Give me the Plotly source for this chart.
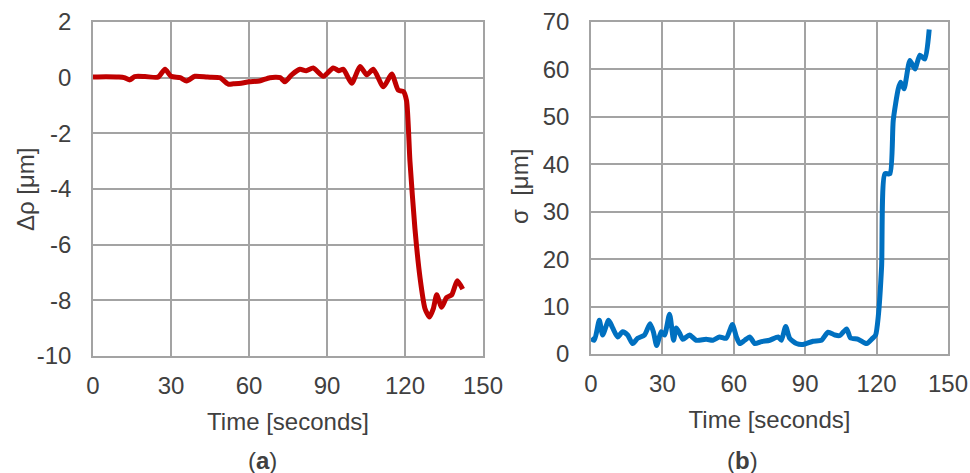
import plotly.graph_objects as go

# (a) displacement change
t_a = [0, 5, 10, 12, 14.2, 16, 20, 25, 27.7, 30, 33.5, 36, 39.2, 44, 48.8, 52, 54, 57, 60, 64,
       68, 72, 73.8, 76.4, 79.6, 82, 84.7, 88.6, 92.4, 94.5, 96.3, 99.5, 102.7, 105.3, 107.8,
       111.7, 114.9, 117.4, 119.4, 120.6, 121.9, 123.8, 125.8, 127.7, 129.4, 130.9, 132.2,
       134.1, 136, 138, 140.1, 142.2]
d_rho = [0.02, 0.03, 0.02, 0.0, -0.08, 0.04, 0.04, 0.02, 0.3, 0.05, 0.0, -0.12, 0.05, 0.02, 0.0,
         -0.23, -0.22, -0.2, -0.15, -0.12, 0.0, 0.0, -0.15, 0.1, 0.3, 0.25, 0.35, 0.05, 0.35,
         0.25, 0.3, -0.2, 0.4, 0.1, 0.3, -0.33, 0.13, -0.45, -0.5, -0.83, -3.0, -5.4, -7.2,
         -8.3, -8.6, -8.3, -7.8, -8.25, -7.9, -7.8, -7.3, -7.6]

# (b) standard deviation
t_b = [0, 1.4, 3.5, 4.9, 7.4, 9.1, 11.2, 13.3, 15.4, 17.5, 19.6, 22.5, 24.8, 26.2, 27.6, 29.5,
       30.9, 33, 34.7, 35.8, 37.2, 38.6, 41.4, 44.2, 48.4, 51.2, 54, 56.8, 59.4, 61.1, 62.5,
       64.6, 66.7, 68.8, 71.6, 75.1, 78.6, 80, 81.8, 83.5, 86.3, 89.1, 93.3, 96.8, 99.6, 102.5,
       104.6, 107.4, 109, 112.3, 115.8, 118.3, 119.6, 120.7, 122.1, 123.5, 125.6, 127, 129.1,
       130.1, 131.5, 134, 136.1, 138.2, 140.3, 142.1]
sigma = [3.3, 2.9, 7.1, 4.0, 7.1, 5.5, 3.6, 4.7, 4.0, 2.2, 3.3, 4.0, 6.4, 4.7, 1.8, 4.7, 4.0,
         8.4, 2.9, 5.5, 4.4, 3.1, 4.0, 2.9, 3.1, 2.9, 3.6, 3.3, 6.2, 3.6, 2.2, 2.9, 3.6, 2.2,
         2.6, 2.9, 3.6, 2.9, 5.8, 3.3, 2.2, 2.0, 2.7, 2.9, 4.6, 4.0, 3.9, 5.3, 3.4, 3.1, 2.2,
         3.3, 4.0, 7.9, 18.4, 38.0, 38.0, 49.3, 55.9, 57.3, 55.9, 61.9, 60.1, 63.0, 62.2, 68.4]

x_ticks = [0, 30, 60, 90, 120, 150]
ya_ticks = [2, 0, -2, -4, -6, -8, -10]
ya_labels = ["2", "0", "-2", "-4", "-6", "-8", "-10"]
yb_ticks = [0, 10, 20, 30, 40, 50, 60, 70]

FONT = "Liberation Sans, Arial, sans-serif"
TXT = "#404040"
GRID = "#a3a3a3"
FS = 24

fig = go.Figure()
fig.add_trace(go.Scatter(x=t_a, y=d_rho, mode="lines", line=dict(color="#c00000", width=5, shape="spline", smoothing=0.6),
                         xaxis="x", yaxis="y", showlegend=False))
fig.add_trace(go.Scatter(x=t_b, y=sigma, mode="lines", line=dict(color="#0070c0", width=5, shape="spline", smoothing=0.6),
                         xaxis="x2", yaxis="y2", showlegend=False))

axis_common = dict(showgrid=True, gridcolor=GRID, gridwidth=1.5, showline=True, linecolor=GRID,
                   linewidth=1.5, mirror=True, zeroline=False, ticks="", automargin=False,
                   tickfont=dict(family=FONT, size=FS, color=TXT), fixedrange=True)

def txt(text, x, y, angle=0):
    return dict(text=text, x=x / 970, y=(473 - y) / 473, xref="paper", yref="paper",
                showarrow=False, textangle=angle, xanchor="center", yanchor="middle",
                font=dict(family=FONT, size=FS, color=TXT))

fig.update_layout(
    width=970, height=473, margin=dict(l=0, r=0, t=0, b=0),
    paper_bgcolor="white", plot_bgcolor="white",
    font=dict(family=FONT, color=TXT),
    xaxis=dict(domain=[93/970, 483/970], range=[0, 150], tickvals=x_ticks, anchor="y",
               ticklabelstandoff=7,
               title=dict(text="Time [seconds]", font=dict(size=FS, color=TXT), standoff=16), **axis_common),
    yaxis=dict(domain=[117/473, 451/473], range=[-10, 2], tickvals=ya_ticks, ticktext=ya_labels, anchor="x",
               ticklabelstandoff=15, **axis_common),
    xaxis2=dict(domain=[591/970, 948/970], range=[0, 150], tickvals=x_ticks, anchor="y2",
                ticklabelstandoff=7,
                title=dict(text="Time [seconds]", font=dict(size=FS, color=TXT), standoff=16), **axis_common),
    yaxis2=dict(domain=[119/473, 451/473], range=[0, 70], tickvals=yb_ticks, anchor="x2",
                ticklabelstandoff=15, **axis_common),
    annotations=[
        txt("Δρ [μm]", 25, 189, -90),
        txt("σ  [μm]", 519, 187, -90),
        txt("(<b>a</b>)", 262, 460),
        txt("(<b>b</b>)", 742, 460),
    ],
)

fig.write_html("out.html")
